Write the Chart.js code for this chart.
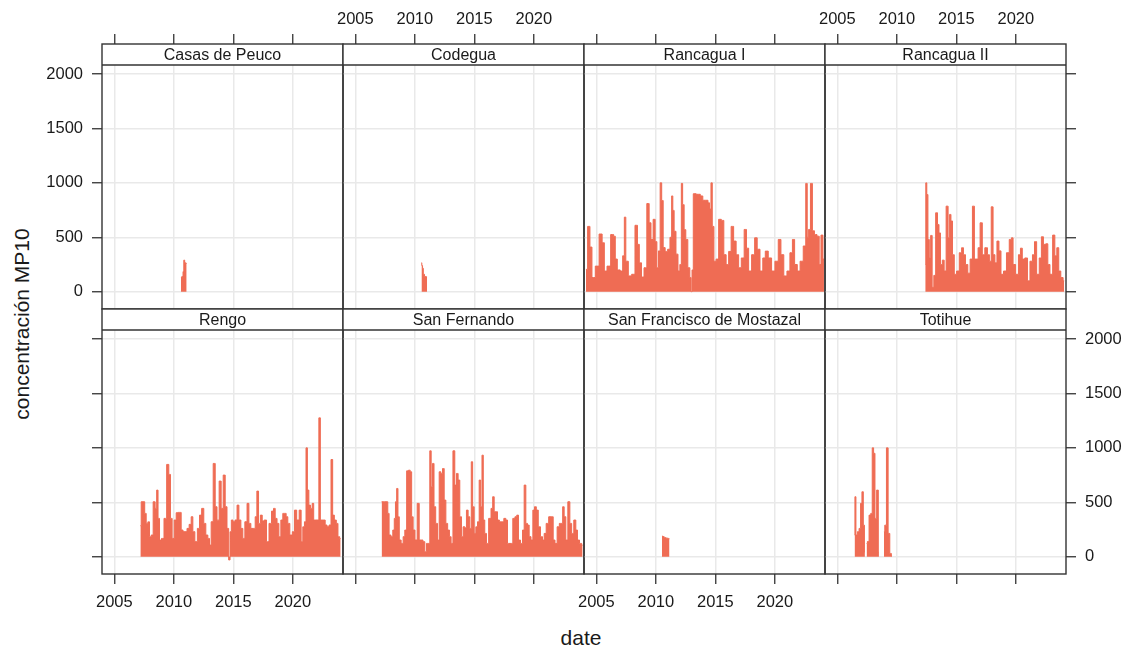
<!DOCTYPE html>
<html lang="es">
<head>
<meta charset="UTF-8" />
<title>concentración MP10</title>
<script src="https://cdn.jsdelivr.net/npm/chart.js"></script>
<style>
  body { margin: 0; background: #fff; }
  #wrap { position: relative; width: 1129px; height: 651px; font-family: "Liberation Sans", Arial, sans-serif; color: #1a1a1a; }
  #wrap canvas { position: absolute; left: 0; top: 0; }
  .axis-title { position: absolute; font-size: 21px; white-space: nowrap; transform: translate(-50%, -50%); }
  #ylab { left: 22px; top: 324px; transform: translate(-50%, -50%) rotate(-90deg); }
  #xlab { left: 581px; top: 638px; }
</style>
</head>
<body>
<div id="wrap">
  <div class="axis-title" id="ylab">concentración MP10</div>
  <div class="axis-title" id="xlab">date</div>
</div>

<script>
// station names, in panel order (top row, then bottom row)
const stationNames = ["Casas de Peuco", "Codegua", "Rancagua I", "Rancagua II",
                      "Rengo", "San Fernando", "San Francisco de Mostazal", "Totihue"];
const yearTicks = [2005, 2010, 2015, 2020];
const valueTicks = [0, 500, 1000, 1500, 2000];

// [decimal year, MP10], null = gap
const casasDePeuco = [[2010.60,130],[2010.75,140],[2010.80,185],[2010.88,290],[2010.95,265],[2011.08,260]];
const codegua = [[2010.56,266],[2010.62,240],[2010.68,215],[2010.75,160],[2010.88,140],[2011.03,135]];
const rancaguaI = [
  [2004.13,205],[2004.41,600],[2004.52,410],[2004.75,130],[2005.08,235],[2005.39,530],[2005.59,450],[2005.76,190],
  [2006.04,235],[2006.37,525],[2006.54,510],[2006.65,300],[2006.88,200],[2007.13,190],[2007.30,330],[2007.41,685],
  [2007.55,280],[2007.83,145],[2008.11,160],[2008.39,610],[2008.53,435],[2008.70,265],[2008.90,135],[2009.12,220],
  [2009.37,810],[2009.51,633],[2009.68,480],[2009.87,665],[2010.02,460],[2010.16,220],[2010.29,375],[2010.44,1000],
  [2010.55,838],[2010.69,405],[2010.88,370],[2011.11,390],[2011.27,500],[2011.39,880],[2011.47,747],[2011.61,555],
  [2011.78,345],[2011.95,190],[2012.09,250],[2012.20,995],[2012.31,800],[2012.45,570],[2012.59,480],[2012.79,220],
  [2012.93,130],[2013.00,0],[2013.09,200],[2013.21,900],[2013.57,895],[2013.91,880],[2013.99,840],[2014.33,840],
  [2014.44,817],[2014.58,760],[2014.69,1000],[2014.80,600],[2014.97,280],[2015.17,300],[2015.39,665],[2015.62,655],
  [2015.81,340],[2016.01,250],[2016.23,370],[2016.43,600],[2016.65,465],[2016.85,340],[2017.07,220],[2017.30,310],
  [2017.55,572],[2017.69,400],[2017.91,190],[2018.19,340],[2018.42,495],[2018.62,390],[2018.89,190],[2019.09,310],
  [2019.31,373],[2019.59,310],[2019.87,190],[2020.15,280],[2020.43,480],[2020.60,340],[2020.91,145],[2021.13,190],
  [2021.41,358],[2021.55,480],[2021.78,250],[2022.00,190],[2022.25,280],[2022.53,420],[2022.67,995],[2022.78,500],
  [2022.90,572],[2023.09,995],[2023.23,560],[2023.43,525],[2023.66,510],[2023.80,250],[2023.96,520],[2024.13,300]
];
const rancaguaII = [
  [2012.39,250],[2012.48,1000],[2012.56,893],[2012.67,480],[2012.79,312],[2012.90,517],[2013.04,40],[2013.18,150],
  [2013.35,725],[2013.49,618],[2013.60,540],[2013.74,250],[2013.91,290],[2014.05,190],[2014.24,786],[2014.38,495],
  [2014.49,710],[2014.61,650],[2014.75,340],[2014.91,160],[2015.14,190],[2015.36,358],[2015.53,404],[2015.67,340],
  [2015.87,250],[2016.06,170],[2016.26,300],[2016.45,786],[2016.59,300],[2016.76,300],[2016.90,404],[2017.10,633],
  [2017.27,340],[2017.52,404],[2017.71,340],[2017.85,280],[2018.02,780],[2018.16,340],[2018.33,265],[2018.50,465],
  [2018.67,375],[2018.84,160],[2019.09,190],[2019.34,358],[2019.56,480],[2019.70,495],[2019.84,250],[2020.12,160],
  [2020.32,340],[2020.46,400],[2020.63,300],[2020.88,310],[2021.08,100],[2021.30,280],[2021.50,340],[2021.64,460],
  [2021.86,160],[2022.08,310],[2022.22,505],[2022.42,435],[2022.62,440],[2022.76,250],[2022.98,160],[2023.21,520],
  [2023.35,330],[2023.54,404],[2023.68,190],[2023.88,130],[2024.07,100]
];
const rengo = [
  [2007.19,285],[2007.33,505],[2007.50,505],[2007.61,398],[2007.75,306],[2007.89,320],[2008.03,184],[2008.17,199],
  [2008.36,505],[2008.50,444],[2008.62,612],[2008.73,352],[2008.87,153],[2009.06,168],[2009.29,352],[2009.51,848],
  [2009.65,756],[2009.79,352],[2009.93,168],[2010.13,337],[2010.27,404],[2010.41,407],[2010.55,407],[2010.69,245],
  [2010.86,230],[2011.03,230],[2011.19,260],[2011.39,297],[2011.53,367],[2011.67,230],[2011.87,138],[2012.09,260],
  [2012.23,382],[2012.45,444],[2012.59,306],[2012.79,199],[2012.93,168],[2013.07,107],[2013.21,321],[2013.41,857],
  [2013.55,459],[2013.71,336],[2013.91,695],[2014.05,444],[2014.25,750],[2014.39,459],[2014.55,260],[2014.67,-30],
  [2014.78,230],[2014.89,337],[2015.06,321],[2015.23,337],[2015.40,474],[2015.54,337],[2015.73,260],[2015.87,168],
  [2016.07,321],[2016.24,490],[2016.38,306],[2016.57,260],[2016.77,260],[2016.91,367],[2017.05,603],[2017.19,306],
  [2017.36,382],[2017.50,328],[2017.69,337],[2017.89,138],[2018.11,306],[2018.31,419],[2018.45,444],[2018.59,352],
  [2018.76,306],[2018.90,184],[2019.09,337],[2019.23,398],[2019.37,398],[2019.51,367],[2019.65,306],[2019.85,199],
  [2020.07,230],[2020.21,428],[2020.44,337],[2020.63,428],[2020.77,138],[2020.91,275],[2021.05,321],[2021.17,1000],
  [2021.28,612],[2021.42,474],[2021.56,444],[2021.70,490],[2021.81,337],[2021.95,337],[2022.12,337],[2022.26,1276],
  [2022.37,337],[2022.51,337],[2022.65,337],[2022.79,291],[2022.96,275],[2023.13,291],[2023.29,893],[2023.41,382],
  [2023.57,337],[2023.74,306],[2023.85,184],[2024.02,168]
];
const sanFernando = [
  [2007.21,505],[2007.47,505],[2007.69,505],[2007.77,398],[2007.91,199],[2008.08,184],[2008.22,245],[2008.33,352],
  [2008.42,505],[2008.53,627],[2008.64,367],[2008.75,153],[2008.95,122],[2009.09,184],[2009.23,245],[2009.40,789],
  [2009.54,795],[2009.68,780],[2009.79,367],[2009.93,245],[2010.10,153],[2010.30,490],[2010.44,153],[2010.60,153],
  [2010.77,138],[2010.91,46],[2011.05,122],[2011.19,122],[2011.33,973],[2011.42,643],[2011.56,857],[2011.67,459],
  [2011.84,306],[2011.98,153],[2012.12,780],[2012.26,765],[2012.40,810],[2012.54,520],[2012.68,306],[2012.84,245],
  [2012.98,184],[2013.12,122],[2013.29,973],[2013.43,658],[2013.57,765],[2013.71,704],[2013.85,367],[2013.99,184],
  [2014.13,275],[2014.27,266],[2014.41,428],[2014.55,367],[2014.69,260],[2014.80,872],[2014.92,459],[2015.06,214],
  [2015.20,275],[2015.34,321],[2015.48,704],[2015.59,459],[2015.70,933],[2015.81,337],[2015.95,214],[2016.09,122],
  [2016.32,352],[2016.49,444],[2016.60,551],[2016.74,413],[2016.88,413],[2017.02,337],[2017.19,321],[2017.38,321],
  [2017.58,352],[2017.72,337],[2017.86,122],[2018.14,122],[2018.33,352],[2018.50,367],[2018.64,382],[2018.78,153],
  [2018.98,122],[2019.12,245],[2019.26,658],[2019.40,306],[2019.54,291],[2019.68,184],[2019.85,153],[2019.99,428],
  [2020.13,459],[2020.29,428],[2020.46,275],[2020.66,184],[2020.80,153],[2020.94,214],[2021.14,306],[2021.36,367],
  [2021.56,367],[2021.70,153],[2021.86,122],[2022.06,275],[2022.23,306],[2022.37,306],[2022.48,459],[2022.62,367],
  [2022.76,153],[2022.96,505],[2023.10,306],[2023.26,214],[2023.46,337],[2023.60,245],[2023.74,153],[2023.94,122],
  [2024.10,107]
];
const sanFranciscoDeMostazal = [[2010.52,190],[2010.62,185],[2010.78,175],[2010.95,170],[2011.15,165]];
const totihue = [
  [2006.45,200],[2006.51,551],[2006.62,200],[2006.76,230],[2006.90,260],[2007.01,490],[2007.13,597],[2007.24,290],
  [2007.32,40],[2007.38,null],[2007.46,122],[2007.60,140],[2007.74,382],[2007.88,398],[2007.99,1000],[2008.11,950],
  [2008.22,352],[2008.39,612],[2008.50,40],[2008.70,null],[2008.92,230],[2009.06,290],[2009.20,1000],[2009.34,214],
  [2009.48,30],[2009.60,10]
];
const stationData = [casasDePeuco, codegua, rancaguaI, rancaguaII,
                     rengo, sanFernando, sanFranciscoDeMostazal, totihue];

// panel geometry (pixels)
const colLeft = [102, 343, 584, 825];
const rowTop = [44, 309];
const panelW = 241, panelH = 265, stripH = 21;
const yAxisW = 70, xAxisH = 40;
const xMin = 2003.966, xMax = 2024.218;
const yMin = -159, yMax = 2276;

const barColor = "rgb(239,108,84)";
const frameColor = "#333";
const gridColor = "#e9e9e9";
const textColor = "#1a1a1a";
const fontFamily = '"Liberation Sans", Arial, sans-serif';

// strip with station name + panel frame, drawn over the plot
const stripPlugin = {
  id: "strip",
  afterDraw(chart, args, opts) {
    const { ctx, chartArea: a } = chart;
    ctx.save();
    ctx.fillStyle = "#fff";
    ctx.fillRect(a.left, a.top, a.right - a.left, stripH);
    ctx.strokeStyle = frameColor;
    ctx.lineWidth = 1.4;
    ctx.beginPath();
    ctx.moveTo(a.left, a.top + stripH);
    ctx.lineTo(a.right, a.top + stripH);
    ctx.stroke();
    ctx.strokeRect(a.left, a.top, a.right - a.left, a.bottom - a.top);
    ctx.fillStyle = textColor;
    ctx.font = "16px " + fontFamily;
    ctx.textAlign = "center";
    ctx.textBaseline = "middle";
    ctx.fillText(opts.label, (a.left + a.right) / 2, a.top + stripH / 2 + 1);
    ctx.restore();
  }
};

const wrap = document.getElementById("wrap");

stationData.forEach((rows, i) => {
  const r = i < 4 ? 0 : 1;
  const c = i % 4;
  const canvas = document.createElement("canvas");
  canvas.width = 1129;
  canvas.height = 651;
  wrap.appendChild(canvas);

  // lattice style alternating axes
  const xLabels = r === 0 ? (c === 1 || c === 3) : (c === 0 || c === 2);
  const hasY = c === 0 || c === 3;
  const yLabels = (c === 0 && r === 0) || (c === 3 && r === 1);
  const yW = hasY ? yAxisW : 0;

  new Chart(canvas, {
    type: "line",
    data: {
      datasets: [{
        data: rows.map(([x, y]) => ({ x, y })),
        borderColor: barColor,
        backgroundColor: barColor,
        borderWidth: 1,
        pointRadius: 0,
        stepped: "middle",
        fill: "origin",
        spanGaps: false
      }]
    },
    options: {
      responsive: false,
      animation: false,
      events: [],
      layout: {
        padding: {
          left: colLeft[c] - (c === 0 ? yW : 0),
          right: 1129 - colLeft[c] - panelW - (c === 3 ? yW : 0),
          top: rowTop[r] - (r === 0 ? xAxisH : 0),
          bottom: 651 - rowTop[r] - panelH - (r === 1 ? xAxisH : 0)
        }
      },
      plugins: {
        legend: { display: false },
        tooltip: { enabled: false },
        strip: { label: stationNames[i] }
      },
      scales: {
        x: {
          type: "linear",
          position: r === 0 ? "top" : "bottom",
          min: xMin,
          max: xMax,
          afterBuildTicks: s => { s.ticks = yearTicks.map(v => ({ value: v })); },
          afterFit: s => { s.height = xAxisH; },
          border: { display: false },
          grid: { color: gridColor, lineWidth: 1.5, tickColor: frameColor, tickWidth: 1.3, tickLength: 10 },
          ticks: {
            display: xLabels,
            maxRotation: 0,
            autoSkip: false,
            padding: r === 0 ? 5 : 9,
            color: textColor,
            font: { family: fontFamily, size: 16.5 },
            callback: v => String(v)
          }
        },
        y: {
          type: "linear",
          position: c === 3 ? "right" : "left",
          min: yMin,
          max: yMax,
          afterBuildTicks: s => { s.ticks = valueTicks.map(v => ({ value: v })); },
          afterFit: s => { s.width = yW; },
          border: { display: false },
          grid: { color: gridColor, lineWidth: 1.5, tickColor: frameColor, tickWidth: 1.3,
                  tickLength: 10, drawTicks: hasY },
          ticks: {
            display: yLabels,
            autoSkip: false,
            padding: 9,
            color: textColor,
            font: { family: fontFamily, size: 16.5 },
            callback: v => String(v)
          }
        }
      }
    },
    plugins: [stripPlugin]
  });
});
</script>
</body>
</html>
